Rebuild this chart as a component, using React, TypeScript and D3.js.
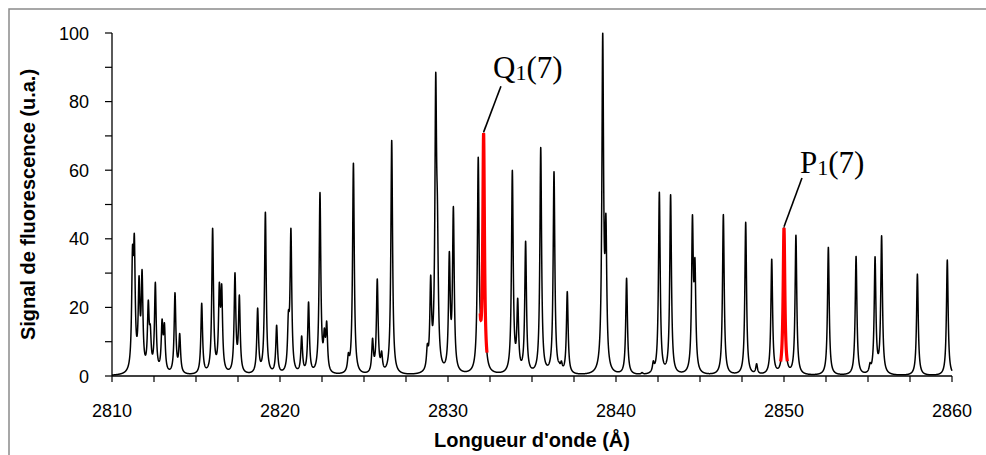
import React from "react";
import * as d3 from "d3";

// Line positions (Å) and peak heights (u.a.)
const linePositions = [
  2811.22, 2811.33, 2811.61, 2811.79, 2812.16, 2812.28, 2812.58, 2812.98, 2813.12, 2813.75, 2814.03,
  2815.34, 2815.99, 2816.39, 2816.53, 2817.32, 2817.58,
  2818.67, 2819.13, 2819.8, 2820.5, 2820.65, 2821.29, 2821.7, 2822.38, 2822.64, 2822.78,
  2824.07, 2824.37, 2825.51, 2825.79, 2826.05, 2826.65,
  2828.77, 2828.97, 2829.27, 2829.37, 2829.98, 2830.08, 2830.32, 2831.8, 2832.12, 2832.3,
  2833.83, 2834.15, 2834.62, 2835.52, 2836.31, 2836.62, 2836.75, 2837.1,
  2839.21, 2839.4, 2840.63, 2841.55, 2842.22, 2842.58, 2843.25, 2844.55, 2844.7,
  2846.39, 2847.72, 2848.37, 2849.27, 2850.0, 2850.71, 2852.64, 2854.19, 2854.29, 2855.12, 2855.42, 2855.81,
  2857.94, 2859.63, 2859.72,
];
const lineHeights = [
  38, 41.4, 29.2, 31, 22.1, 15, 27.3, 16.6, 15.5, 24.3, 12.4,
  21.2, 43.1, 27.3, 26.8, 30.1, 23.6,
  19.8, 47.8, 14.8, 19, 43.1, 11.7, 21.6, 53.5, 14, 16,
  6.8, 62.1, 11, 28.3, 7.3, 68.7,
  9.4, 29.4, 88.4, 52, 6, 36.3, 49.4, 63.8, 70.8, 5,
  60, 22.7, 39.3, 66.6, 59.6, 4, 4.4, 24.6,
  100, 47.3, 28.5, 1, 4.4, 53.6, 52.9, 47, 34.4,
  47.1, 44.8, 3.6, 34.1, 43.2, 41.1, 37.5, 10, 34.9, 3.9, 34.8, 40.9,
  29.7, 8, 33.8,
];

// Highlighted lines and their labels
const highlightLabels = ["Q", "P"];
const highlightPositions = [2832.12, 2850.0];
const labelTextPos = [
  [2832.68, 86.9],
  [2850.95, 59.2],
];
const leaderEndPos = [
  [2833.15, 84.5],
  [2851.07, 57.7],
];

const xTickLabels = [2810, 2820, 2830, 2840, 2850, 2860];
const yTickLabels = [0, 20, 40, 60, 80, 100];

const W = 986;
const H = 455;
const GAMMA = 0.06; // Lorentzian half width (Å)

const lor = (d: number) => 1 / (1 + (d / GAMMA) * (d / GAMMA));

// amplitudes such that the summed profile reaches the read heights at line centres
function solveAmplitudes(pos: number[], h: number[]) {
  const a = h.slice();
  for (let it = 0; it < 200; it++) {
    for (let i = 0; i < pos.length; i++) {
      let s = 0;
      for (let j = 0; j < pos.length; j++) if (j !== i) s += a[j] * lor(pos[i] - pos[j]);
      a[i] = Math.max(0, h[i] - s);
    }
  }
  return a;
}

export default function App() {
  const x = d3.scaleLinear().domain([2810, 2860]).range([112, 952]);
  const y = d3.scaleLinear().domain([0, 100]).range([376, 33]);

  const amps = solveAmplitudes(linePositions, lineHeights);
  const profile = (l: number) => {
    let s = 0;
    for (let i = 0; i < linePositions.length; i++) s += amps[i] * lor(l - linePositions[i]);
    return s;
  };
  const grid = d3.range(2810, 2860.0001, 0.004);
  const pts: [number, number][] = grid.map((l) => [l, profile(l)]);
  const line = d3
    .line<[number, number]>()
    .x((d) => x(d[0]))
    .y((d) => y(d[1]));

  const redPaths = highlightPositions.map((c) =>
    line(d3.range(c - 0.2, c + 0.2001, 0.004).map((l) => [l, profile(l)] as [number, number]))
  );

  const xMinor = d3.range(2810, 2860.001, 2.5);
  const yMinor = d3.range(0, 100.001, 10);
  const axisFont = "Liberation Sans, Arial, sans-serif";

  return (
    <svg width={W} height={H} style={{ position: "absolute", left: 0, top: 0, background: "#fff" }}>
      <rect x={9} y={9} width={W + 20} height={H + 20} fill="none" stroke="#8a8a8a" strokeWidth={1.5} />
      {/* axes */}
      <line x1={x(2810)} x2={x(2860)} y1={y(0)} y2={y(0)} stroke="#000" strokeWidth={1.3} />
      <line x1={x(2810)} x2={x(2810)} y1={y(0)} y2={y(100)} stroke="#000" strokeWidth={1.3} />
      {xMinor.map((t) => (
        <line key={"xt" + t} x1={x(t)} x2={x(t)} y1={y(0)} y2={y(0) + 6} stroke="#000" strokeWidth={1.2} />
      ))}
      {yMinor.map((t) => (
        <line key={"yt" + t} x1={x(2810) - 7} x2={x(2810)} y1={y(t)} y2={y(t)} stroke="#000" strokeWidth={1.2} />
      ))}
      {xTickLabels.map((t) => (
        <text key={"xl" + t} x={x(t)} y={y(0) + 41} textAnchor="middle" fontFamily={axisFont} fontSize={18}>
          {t}
        </text>
      ))}
      {yTickLabels.map((t) => (
        <text key={"yl" + t} x={89} y={y(t) + 6.5} textAnchor="end" fontFamily={axisFont} fontSize={18}>
          {t}
        </text>
      ))}
      <text x={532} y={447} textAnchor="middle" fontFamily={axisFont} fontSize={20} fontWeight="bold">
        Longueur d'onde (Å)
      </text>
      <text
        transform={`translate(35, ${y(50)}) rotate(-90)`}
        textAnchor="middle"
        fontFamily={axisFont}
        fontSize={20}
        fontWeight="bold"
      >
        Signal de fluorescence (u.a.)
      </text>
      {/* spectrum */}
      <path d={line(pts) || ""} fill="none" stroke="#000" strokeWidth={1.5} strokeLinejoin="round" />
      {redPaths.map((p, i) => (
        <path key={"r" + i} d={p || ""} fill="none" stroke="#ff0000" strokeWidth={3.2} />
      ))}
      {/* annotations */}
      {highlightPositions.map((c, i) => {
        const [lx, ly] = labelTextPos[i];
        const [ex, ey] = leaderEndPos[i];
        return (
          <g key={"a" + i}>
            <line x1={x(c)} y1={y(profile(c)) - 1} x2={x(ex)} y2={y(ey)} stroke="#000" strokeWidth={1.6} />
            <text x={x(lx)} y={y(ly)} fontFamily="Liberation Serif, Times New Roman, serif" fontSize={31}>
              {highlightLabels[i]}
              <tspan fontSize={22} dy={2}>1</tspan>
              <tspan dy={-2}>(7)</tspan>
            </text>
          </g>
        );
      })}
    </svg>
  );
}
